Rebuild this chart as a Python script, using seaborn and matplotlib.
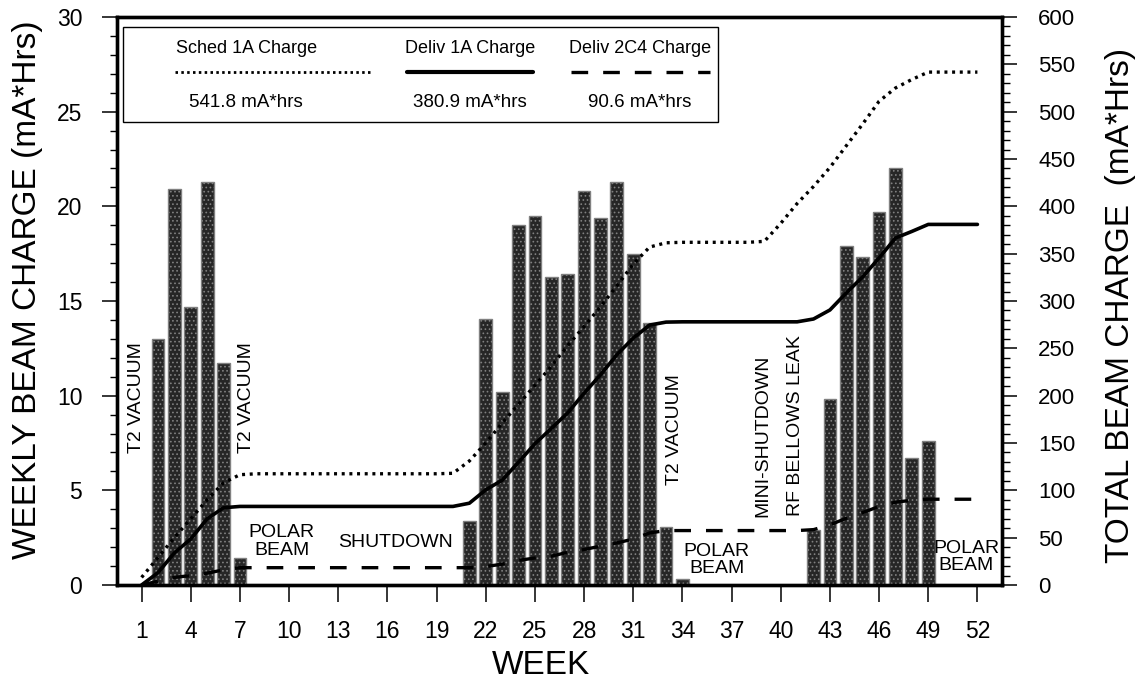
import matplotlib
matplotlib.use("Agg")
import matplotlib.pyplot as plt
from matplotlib.ticker import MultipleLocator, FixedLocator
from matplotlib.patches import Rectangle
from matplotlib.lines import Line2D
import pandas as pd
import seaborn as sns

# ---------------- data ----------------
bar_weeks = [2, 3, 4, 5, 6, 7,
             21, 22, 23, 24, 25, 26, 27, 28, 29, 30, 31, 32, 33, 34,
             42, 43, 44, 45, 46, 47, 48, 49]
bar_values = [13.0, 20.9, 14.7, 21.3, 11.7, 1.45,
              3.4, 14.05, 10.2, 19.0, 19.5, 16.25, 16.4, 20.8, 19.4, 21.3, 17.5, 13.85, 3.05, 0.3,
              2.9, 9.85, 17.9, 17.3, 19.7, 22.0, 6.7, 7.6]

weeks = list(range(1, 53))
sched_1a = [8, 29, 50, 70, 90, 108, 116.5,
            117.5, 117.5, 117.5, 117.5, 117.5, 117.5, 117.5, 117.5, 117.5, 117.5, 117.5, 117.5, 118,
            131, 150, 171, 191, 211, 231, 253, 273, 294, 316, 339, 357, 361.5,
            362, 362, 362, 362, 362, 363,
            382, 403, 421, 441, 464, 487, 511, 525, 534, 541.8, 541.8, 541.8, 541.8]
deliv_1a = [0, 13.0, 33.9, 48.6, 69.9, 81.6, 83.0,
            83.0, 83.0, 83.0, 83.0, 83.0, 83.0, 83.0, 83.0, 83.0, 83.0, 83.0, 83.0, 83.0,
            86.4, 100.5, 110.7, 129.7, 149.2, 165.4, 181.8, 202.6, 222.0, 243.3, 260.8, 274.6, 277.7,
            278, 278, 278, 278, 278, 278, 278, 278,
            281, 290.5, 308.5, 325.5, 345.5, 366.5, 373.5, 380.9, 380.9, 380.9, 380.9]
deliv_2c4 = [0, 4, 8, 10, 12.5, 16, 18.3,
             18.3, 18.3, 18.3, 18.3, 18.3, 18.3, 18.3, 18.3, 18.3, 18.3, 18.3, 18.3, 18.3, 18.3,
             19.5, 22, 26, 28.5, 30.5, 34.5, 37.5, 41, 44.5, 48.5, 55, 57.5,
             57.5, 57.5, 57.5, 57.5, 57.5, 57.5, 57.5, 57.5,
             58.5, 63.5, 70.5, 76.5, 83, 87.5, 89.5, 90.6, 90.6, 90.6, 90.6]

week_ticks = list(range(1, 53, 3))
left_ticks = [0, 5, 10, 15, 20, 25, 30]
right_ticks = list(range(0, 601, 50))

legend_titles = ["Sched 1A Charge", "Deliv 1A Charge", "Deliv 2C4 Charge"]
legend_totals = ["541.8 mA*hrs", "380.9 mA*hrs", "90.6 mA*hrs"]

vertical_notes = [("T2 VACUUM", 0.72, 9.9), ("T2 VACUUM", 7.4, 9.9),
                  ("T2 VACUUM", 33.5, 8.2), ("MINI-SHUTDOWN", 38.9, 7.9),
                  ("RF BELLOWS LEAK", 40.9, 8.4)]
flat_notes = [("POLAR\nBEAM", 9.55, 2.3), ("SHUTDOWN", 16.5, 2.27),
              ("POLAR\nBEAM", 36.1, 1.32), ("POLAR\nBEAM", 51.3, 1.48)]

# ---------------- style ----------------
sns.set_style("ticks")
plt.rcParams["font.family"] = ["Liberation Sans", "DejaVu Sans"]
plt.rcParams["hatch.linewidth"] = 0.7
for k in ("text.color", "axes.labelcolor", "xtick.color", "ytick.color", "axes.edgecolor"):
    plt.rcParams[k] = "black"

fig = plt.figure(figsize=(11.41, 6.91), dpi=100)
ax = fig.add_axes([117 / 1141, 106 / 691, 885 / 1141, 568 / 691])

bars_df = pd.DataFrame({"week": bar_weeks, "charge": bar_values})
sns.barplot(data=bars_df, x="week", y="charge", native_scale=True, width=0.78,
            color="#262626", edgecolor="#808080", linewidth=1.0, hatch="....",
            ax=ax, zorder=2)
for p in ax.patches:
    p.set_facecolor("#262626")

ax.set_xlim(-0.5, 53.5)
ax.set_ylim(0, 30)
ax.xaxis.set_major_locator(FixedLocator(week_ticks))
ax.set_xticklabels([str(w) for w in week_ticks])
ax.yaxis.set_major_locator(FixedLocator(left_ticks))
ax.yaxis.set_minor_locator(MultipleLocator(1))
ax.set_xlabel("")
ax.set_ylabel("")

ax2 = ax.twinx()
lines_df = pd.DataFrame({"week": weeks, "sched": sched_1a, "d1a": deliv_1a, "d2c4": deliv_2c4})
sns.lineplot(data=lines_df, x="week", y="sched", ax=ax2, color="black", lw=2.4,
             linestyle=(0, (0.9, 1.4)), zorder=3)
sns.lineplot(data=lines_df, x="week", y="d1a", ax=ax2, color="black", lw=2.6, zorder=3)
sns.lineplot(data=lines_df, x="week", y="d2c4", ax=ax2, color="black", lw=2.4,
             linestyle=(0, (5, 4.5)), zorder=3)
ax2.set_ylim(0, 600)
ax2.set_xlim(-0.5, 53.5)
ax2.yaxis.set_major_locator(FixedLocator(right_ticks))
ax2.yaxis.set_minor_locator(MultipleLocator(10))
ax2.set_ylabel("")
ax2.set_xlabel("")

for a in (ax, ax2):
    for s in a.spines.values():
        s.set_linewidth(2.4)
        s.set_color("black")
        s.set_visible(True)

ax.tick_params(axis="x", which="major", direction="out", length=12, width=1.1,
               pad=13, labelsize=16.5, top=False)
ax.tick_params(axis="y", which="major", direction="out", length=11, width=1.1,
               pad=14, labelsize=16.5, right=False)
ax.tick_params(axis="y", which="minor", direction="out", length=5, width=1.0, right=False)
ax2.tick_params(axis="y", which="major", direction="out", length=11, width=1.1,
                pad=15, labelsize=16, left=False)
ax2.tick_params(axis="y", which="minor", direction="out", length=6, width=1.0, left=False)

# axis titles
fig.text(28 / 1141, 1 - 290 / 691, "WEEKLY BEAM CHARGE (mA*Hrs)", rotation=90,
         ha="center", va="center", fontsize=24)
fig.text(1121 / 1141, 1 - 305 / 691, "TOTAL BEAM CHARGE  (mA*Hrs)", rotation=90,
         ha="center", va="center", fontsize=24)
fig.text(541 / 1141, 1 - 666 / 691, "WEEK", ha="center", va="center", fontsize=24)

# annotations
for txt, x, y in vertical_notes:
    ax.text(x, y, txt, rotation=90, ha="center", va="center", fontsize=14, zorder=5)
for txt, x, y in flat_notes:
    ax.text(x, y, txt, ha="center", va="center", fontsize=14, multialignment="center",
            linespacing=1.05, zorder=5)

# legend box
ax2.add_patch(Rectangle((0.0068, 0.815), 0.672, 0.167, transform=ax2.transAxes,
                        facecolor="white", edgecolor="black", lw=1.0, zorder=6))
col_x = [0.146, 0.399, 0.591]
key_spans = [(0.065, 0.286), (0.328, 0.470), (0.513, 0.670)]
key_styles = [dict(lw=2.0, linestyle=(0, (0.9, 1.2))), dict(lw=3.0, linestyle="-"),
              dict(lw=2.4, linestyle=(0, (5, 4.5)))]
for cx, (x0, x1), st, t1, t2 in zip(col_x, key_spans, key_styles, legend_titles, legend_totals):
    ax2.text(cx, 0.945, t1, transform=ax2.transAxes, ha="center", va="center",
             fontsize=13, zorder=7)
    ax2.add_line(Line2D([x0, x1], [0.903, 0.903], transform=ax2.transAxes,
                        color="black", zorder=7, **st))
    ax2.text(cx, 0.850, t2, transform=ax2.transAxes, ha="center", va="center",
             fontsize=13.5, zorder=7)

fig.savefig("out.png", dpi=100)
